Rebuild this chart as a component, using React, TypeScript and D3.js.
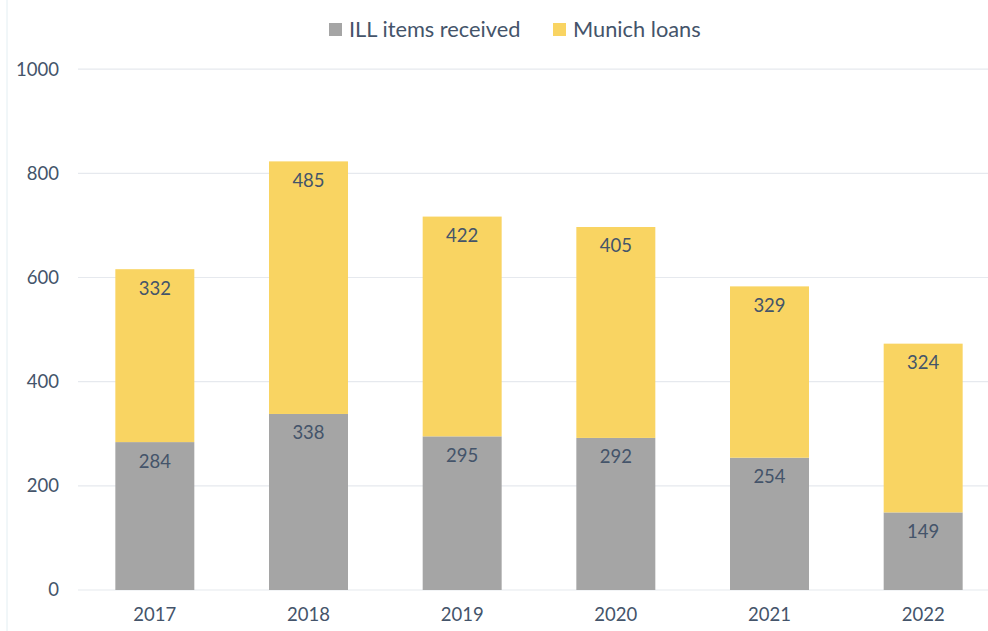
import React from "react";
import * as d3 from "d3";

const years = ["2017", "2018", "2019", "2020", "2021", "2022"];
const illItems = [284, 338, 295, 292, 254, 149];
const munichLoans = [332, 485, 422, 405, 329, 324];
const yTicks = [0, 200, 400, 600, 800, 1000];
const seriesNames = ["ILL items received", "Munich loans"];
const seriesColors = ["#A5A5A5", "#F9D462"];

const W = 988;
const H = 631;
const FONT = "Lato, 'Open Sans', sans-serif";
const TEXT = "#44546A";

export default function App() {
  const x = d3.scaleBand<string>().domain(years).range([78, 1000]).paddingInner(0.486).paddingOuter(0.243);
  const y = d3.scaleLinear().domain([0, 1000]).range([590, 69.2]);
  const bw = x.bandwidth();

  return (
    <svg width={W} height={H} style={{ position: "absolute", left: 0, top: 0, background: "#fff" }}>
      <line x1={7} x2={7} y1={0} y2={H} stroke="#E3EEF2" strokeWidth={1} />
      {yTicks.map((t) => (
        <g key={t}>
          <line x1={78} x2={W} y1={y(t)} y2={y(t)} stroke="#E6E9EE" strokeWidth={1.2} />
          <text x={59} y={y(t)} dy="0.35em" textAnchor="end" fontFamily={FONT} fontSize={18.5} fill={TEXT}>
            {t}
          </text>
        </g>
      ))}
      {years.map((yr, i) => {
        const x0 = x(yr)!;
        const a = illItems[i];
        const b = munichLoans[i];
        return (
          <g key={yr}>
            <rect x={x0} y={y(a)} width={bw} height={y(0) - y(a)} fill={seriesColors[0]} />
            <rect x={x0} y={y(a + b)} width={bw} height={y(a) - y(a + b)} fill={seriesColors[1]} />
            <text x={x0 + bw / 2} y={y(a) + 19} dy="0.35em" textAnchor="middle" fontFamily={FONT} fontSize={18.5} fill={TEXT}>
              {a}
            </text>
            <text x={x0 + bw / 2} y={y(a + b) + 19} dy="0.35em" textAnchor="middle" fontFamily={FONT} fontSize={18.5} fill={TEXT}>
              {b}
            </text>
            <text x={x0 + bw / 2} y={615} dy="0.35em" textAnchor="middle" fontFamily={FONT} fontSize={18.5} fill={TEXT}>
              {yr}
            </text>
          </g>
        );
      })}
      <g>
        <rect x={329} y={23} width={13} height={13} fill={seriesColors[0]} />
        <text x={349} y={29.5} dy="0.35em" fontFamily={FONT} fontSize={21.8} fill={TEXT}>
          {seriesNames[0]}
        </text>
        <rect x={553} y={23} width={13} height={13} fill={seriesColors[1]} />
        <text x={573} y={29.5} dy="0.35em" fontFamily={FONT} fontSize={21.8} fill={TEXT}>
          {seriesNames[1]}
        </text>
      </g>
    </svg>
  );
}
